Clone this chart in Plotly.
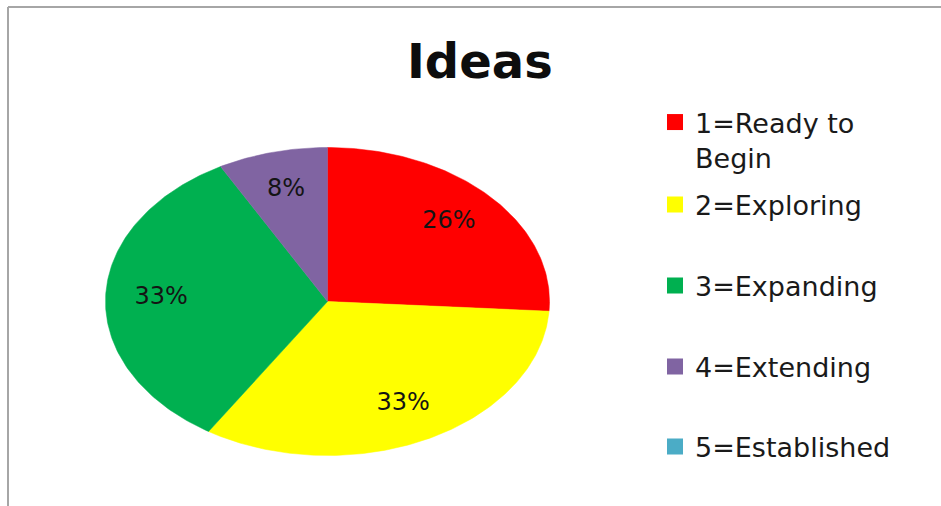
import numpy as np
import plotly.graph_objects as go

# Chart data
categories = ["1=Ready to<br>Begin", "2=Exploring", "3=Expanding", "4=Extending", "5=Established"]
shares = [26, 33, 33, 8, 0]          # percent of responses
colors = ["#FF0000", "#FFFF00", "#00B050", "#8064A2", "#4BACC6"]
title_text = "Ideas"

W, H = 941, 506
# pie geometry in pixel-like data units (y axis reversed)
cx, cy = 327.5, 301.5
rx, ry = 222, 154
label_r = 0.75

fig = go.Figure()

total = float(sum(shares))
start = 0.0
for name, val, col in zip(categories, shares, colors):
    frac = val / total
    if frac > 0:
        th = np.linspace(start, start + frac, max(int(frac * 400), 8)) * 2 * np.pi
        xs = np.concatenate([[cx], cx + rx * np.sin(th), [cx]])
        ys = np.concatenate([[cy], cy - ry * np.cos(th), [cy]])
        fig.add_trace(go.Scatter(
            x=xs, y=ys, mode="lines", fill="toself", fillcolor=col,
            line=dict(color=col, width=0.5), showlegend=False, hoverinfo="skip"))
        mid = (start + frac / 2) * 2 * np.pi
        fig.add_trace(go.Scatter(
            x=[cx + rx * label_r * np.sin(mid)], y=[cy - ry * label_r * np.cos(mid)],
            mode="text", text=[f"{val}%"],
            textfont=dict(family="DejaVu Sans", size=24, color="#141414"),
            showlegend=False, hoverinfo="skip"))
    start += frac

# legend: one small legend per category, placed down the right side
legend_rows = [140, 205, 286, 367, 447]
for i, (name, col) in enumerate(zip(categories, colors)):
    key = "legend" if i == 0 else f"legend{i + 1}"
    fig.add_trace(go.Scatter(
        x=[None], y=[None], mode="markers", name=name,
        marker=dict(symbol="square", size=18, color=col),
        legend=key, showlegend=True))
    fig.update_layout(**{key: dict(
        x=655 / W, y=1 - legend_rows[i] / H, xanchor="left", yanchor="middle",
        bgcolor="rgba(0,0,0,0)", borderwidth=0, valign="top",
        font=dict(family="DejaVu Sans", size=27, color="#1a1a1a"))})

fig.add_annotation(
    x=480 / W, y=1 - 61 / H, xref="paper", yref="paper", text=f"<b>{title_text}</b>",
    showarrow=False, xanchor="center", yanchor="middle",
    font=dict(family="DejaVu Sans", size=48, color="#0d0d0d"))

# frame lines (top and left)
fig.add_shape(type="line", xref="x", yref="y", x0=8, y0=7, x1=W, y1=7,
              line=dict(color="#A6A6A6", width=2))
fig.add_shape(type="line", xref="x", yref="y", x0=8, y0=7, x1=8, y1=H,
              line=dict(color="#A6A6A6", width=2))

fig.update_layout(
    width=W, height=H, margin=dict(l=0, r=0, t=0, b=0),
    paper_bgcolor="white", plot_bgcolor="white",
    xaxis=dict(range=[0, W], visible=False, fixedrange=True),
    yaxis=dict(range=[H, 0], visible=False, fixedrange=True),
)

fig.write_html("out.html")
